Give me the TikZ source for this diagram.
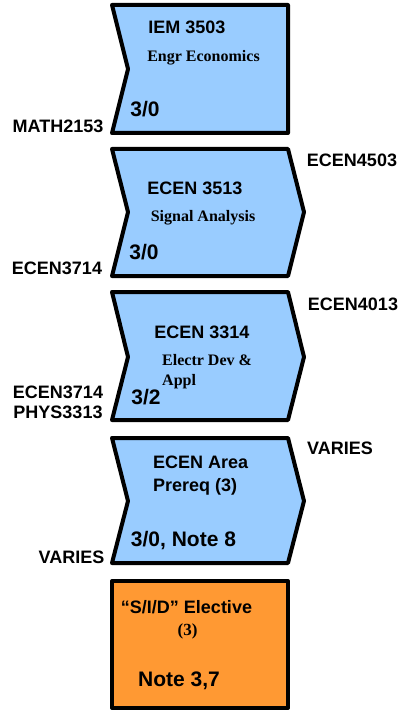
\documentclass[tikz,border=0pt]{standalone}
\usepackage{fontspec}
\setmainfont{Liberation Sans}
\newfontfamily\timesfont{Liberation Serif}
\usepackage{xcolor}
\definecolor{courseblue}{HTML}{99CCFF}
\definecolor{electorange}{HTML}{FF9933}
\usepackage{tikz}
\usetikzlibrary{calc}

\tikzset{
    course/.style={draw=black, line width=4pt, line join=round, fill=courseblue},
    elective/.style={draw=black, line width=4pt, line join=round, fill=electorange},
    title/.style={inner sep=0pt, font=\fontsize{18}{23}\selectfont\bfseries},
    subtitle/.style={inner sep=0pt, font=\fontsize{16}{20}\selectfont\timesfont\bfseries},
    hours/.style={inner sep=0pt, font=\fontsize{21}{24}\selectfont\bfseries},
    prereq/.style={inner sep=0pt, font=\fontsize{18}{20}\selectfont\bfseries}
}

\begin{document}
\begin{tikzpicture}[x=1pt, y=-1pt, black]

    \useasboundingbox (0,0) rectangle (403,711);

    %coordinates
    \coordinate (L) at (112,0); % left edge
    \coordinate (N) at (128,0); % notch
    \coordinate (R) at (288,0); % right edge
    \coordinate (T) at (304,0); % tip

    %first course (no tip)
    \draw[course] (L|-0,5) -- (R|-0,5) -- (R|-0,133) -- (L|-0,133) -- (N|-0,69) -- cycle;

    %chevrons
    \foreach \t/\m/\b in {149/212/276, 292/357/420, 438/501/563}
    \draw[course] (L|-0,\t) -- (R|-0,\t) -- (T|-0,\m) -- (R|-0,\b) -- (L|-0,\b) -- (N|-0,\m) -- cycle;

    %elective
    \draw[elective] (112,581) rectangle (288,708);

    %IEM 3503
    \node[title] (iem) at (187,27) {IEM 3503};
    \node[subtitle] (iemsub) at (203.5,58) {Engr Economics};
    \node[hours] (iemhrs) at (145,109) {3/0};
    \node[prereq] (iempre) at (58,126) {MATH2153};

    %ECEN 3513
    \node[title] (sig) at (195,188) {ECEN 3513};
    \node[subtitle] (sigsub) at (203,218) {Signal Analysis};
    \node[hours] (sighrs) at (144,252) {3/0};
    \node[prereq] (signext) at (352,160) {ECEN4503};
    \node[prereq] (sigpre) at (57,268) {ECEN3714};

    %ECEN 3314
    \node[title] (dev) at (202,332) {ECEN 3314};
    \node[subtitle, anchor=west, align=left] (devsub) at (162,372) {Electr Dev \&\\Appl};
    \node[hours] (devhrs) at (146,397) {3/2};
    \node[prereq] (devnext) at (353,304) {ECEN4013};
    \node[prereq, align=center] (devpre) at (58,402) {ECEN3714\\PHYS3313};

    %ECEN area prereq
    \node[title, anchor=west, align=left] (area) at (153,476) {ECEN Area\\Prereq (3)};
    \node[hours] (areahrs) at (183.5,541) {3/0, Note 8};
    \node[prereq] (areanext) at (340,448) {VARIES};
    \node[prereq] (areapre) at (71.5,557) {VARIES};

    %S/I/D elective
    \node[title] (sid) at (186.5,607) {“S/I/D” Elective};
    \node[subtitle, font=\fontsize{17}{20}\selectfont\timesfont\bfseries] (sidhrs) at (187.5,631) {(3)};
    \node[hours] (sidnote) at (179,681) {Note 3,7};

\end{tikzpicture}
\end{document}
